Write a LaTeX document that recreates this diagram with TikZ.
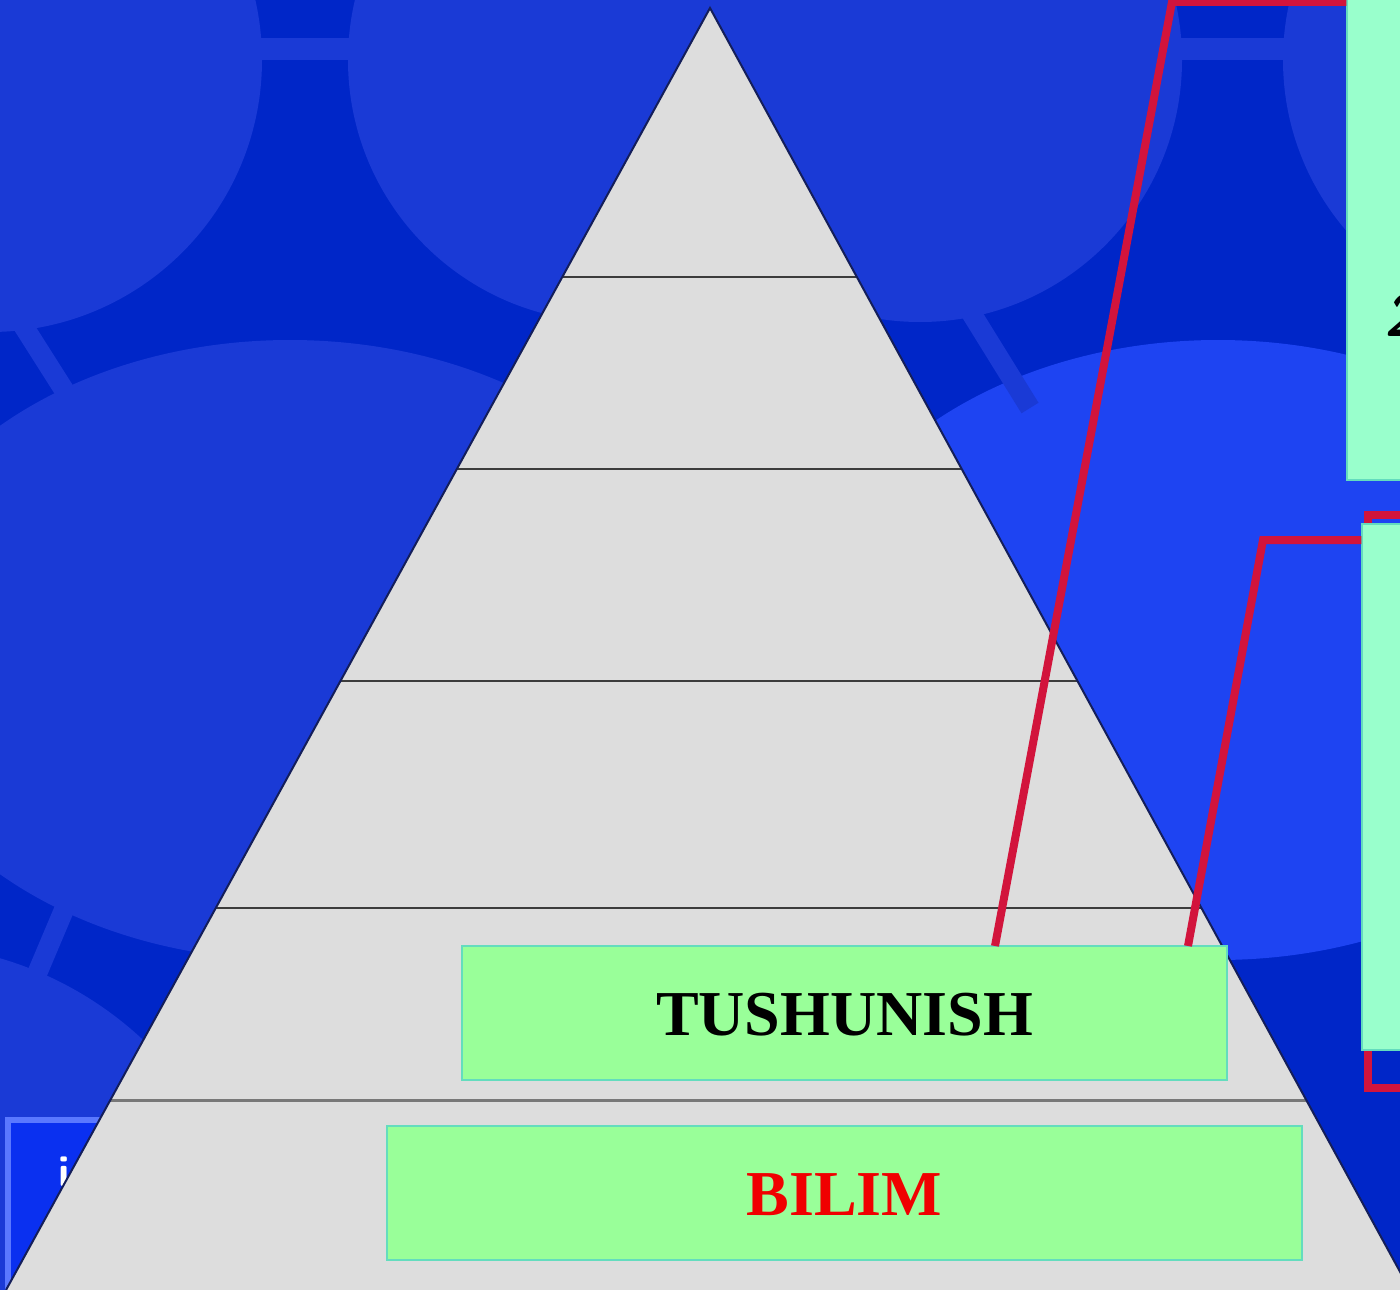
\documentclass[tikz,border=0pt]{standalone}
\usepackage{fontspec}
\setmainfont{Liberation Serif}
\usetikzlibrary{calc}
\definecolor{bgdark}{RGB}{0,38,200}
\definecolor{bglight}{RGB}{26,58,214}
\definecolor{bgbright}{RGB}{30,68,242}
\definecolor{tri}{RGB}{221,221,221}
\definecolor{triedge}{RGB}{20,30,90}
\definecolor{levline}{RGB}{60,60,60}
\definecolor{boxgreen}{RGB}{153,255,153}
\definecolor{boxaqua}{RGB}{153,255,204}
\definecolor{boxedge}{RGB}{100,220,190}
\definecolor{connred}{RGB}{210,20,60}
\definecolor{labelred}{RGB}{240,0,0}
\tikzset{
  greenbox/.style={draw=boxedge, line width=1.5pt, fill=boxgreen, rectangle, inner sep=0pt},
  aquabox/.style={draw=boxedge, line width=1.5pt, fill=boxaqua, rectangle, inner sep=0pt},
  levelline/.style={draw=levline, line width=2pt},
  redconn/.style={draw=connred, line width=8pt, line join=miter},
  gapstripe/.style={draw=bglight, line width=20pt},
  biglabel/.style={font=\fontsize{64}{70}\selectfont\bfseries}
}
\begin{document}
\begin{tikzpicture}[x=1pt,y=-1pt]
\useasboundingbox (0,0) rectangle (1400,1290);
\clip (0,0) rectangle (1400,1290);
% background
\fill[bglight] (0,0) rectangle (1400,1290);
% dark regions between the rounded shapes
\fill[bgdark] (0,0) rectangle (700,430);
\fill[bgdark] (0,840) rectangle (240,1100);
\fill[bgdark] (880,0) rectangle (1350,430);
\fill[bgdark] (1150,900) rectangle (1400,1290);
% light rounded shapes
\fill[bglight] (-10,60) circle (272);
\fill[bglight] (610,60) circle (262);
\fill[bglight] (290,650) ellipse [x radius=420, y radius=310];
\fill[bglight] (-100,1300) circle (356);
\fill[bglight] (920,60) circle (262);
\fill[bglight] (1545,60) circle (262);
\fill[bgbright] (1218,650) ellipse [x radius=420, y radius=310];
% gap stripes
\fill[bglight] (255,38) rectangle (350,60);
\fill[bglight] (1170,38) rectangle (1290,60);
\draw[gapstripe] (12,308) -- (78,412);
\draw[gapstripe] (85,860) -- (28,995);
\draw[gapstripe] (952,282) -- (1030,408);
% bottom-left small box with "i"
\node[draw={rgb,255:red,90;green,120;blue,255}, line width=6pt, fill={rgb,255:red,10;green,48;blue,240},
      minimum width=140pt, minimum height=200pt, inner sep=0pt] (ibox) at (78,1220) {};
\node[text=white, font=\fontsize{44}{48}\selectfont\bfseries\sffamily] (itext) at (64,1172) {i};
% pyramid
\coordinate (apex) at (710,8);
\coordinate (bl) at (6,1290);
\coordinate (br) at (1410,1290);
\fill[tri] (apex) -- (bl) -- (br) -- cycle;
\foreach \yy in {277,469,681,908}{
  \draw[levelline] ($(apex)!{(\yy-8)/1282}!(bl)$) -- ($(apex)!{(\yy-8)/1282}!(br)$);
}
\draw[draw={rgb,255:red,120;green,120;blue,120}, line width=3pt] ($(apex)!{(1100-8)/1282}!(bl)$) -- ($(apex)!{(1100-8)/1282}!(br)$);
\draw[triedge, line width=2pt] (bl) -- (apex) -- (br);
% right boxes
\node[aquabox, minimum width=80pt, minimum height=500pt] (rbox1) at (1387,230) {};
\draw[redconn] (1420,515) -- (1368,515) -- (1368,1088) -- (1420,1088);
\node[aquabox, minimum width=70pt, minimum height=526pt] (rbox2) at (1397,787) {};
\node[anchor=west, font=\fontsize{60}{64}\selectfont\bfseries\sffamily\itshape] (two) at (1381,315) {2};
% green boxes
\node[greenbox, minimum width=765pt, minimum height=134pt] (tush) at (844.5,1013) {};
\node[greenbox, minimum width=915pt, minimum height=134pt] (bilim) at (844.5,1193) {};
% red connectors
\coordinate (r1a) at (995,946);
\coordinate (r1b) at (1172,2);
\coordinate (r2a) at (1188,946);
\coordinate (r2b) at (1263,540);
\draw[redconn] (r1a) -- (r1b) -- (r1b -| rbox1.west);
\draw[redconn] (r2a) -- (r2b) -- (r2b -| rbox2.west);
% labels
\node[biglabel, text=black] (tushtext) at (844.5,1015) {TUSHUNISH};
\node[biglabel, text=labelred] (bilimtext) at (844.5,1195) {BILIM};
\end{tikzpicture}
\end{document}
